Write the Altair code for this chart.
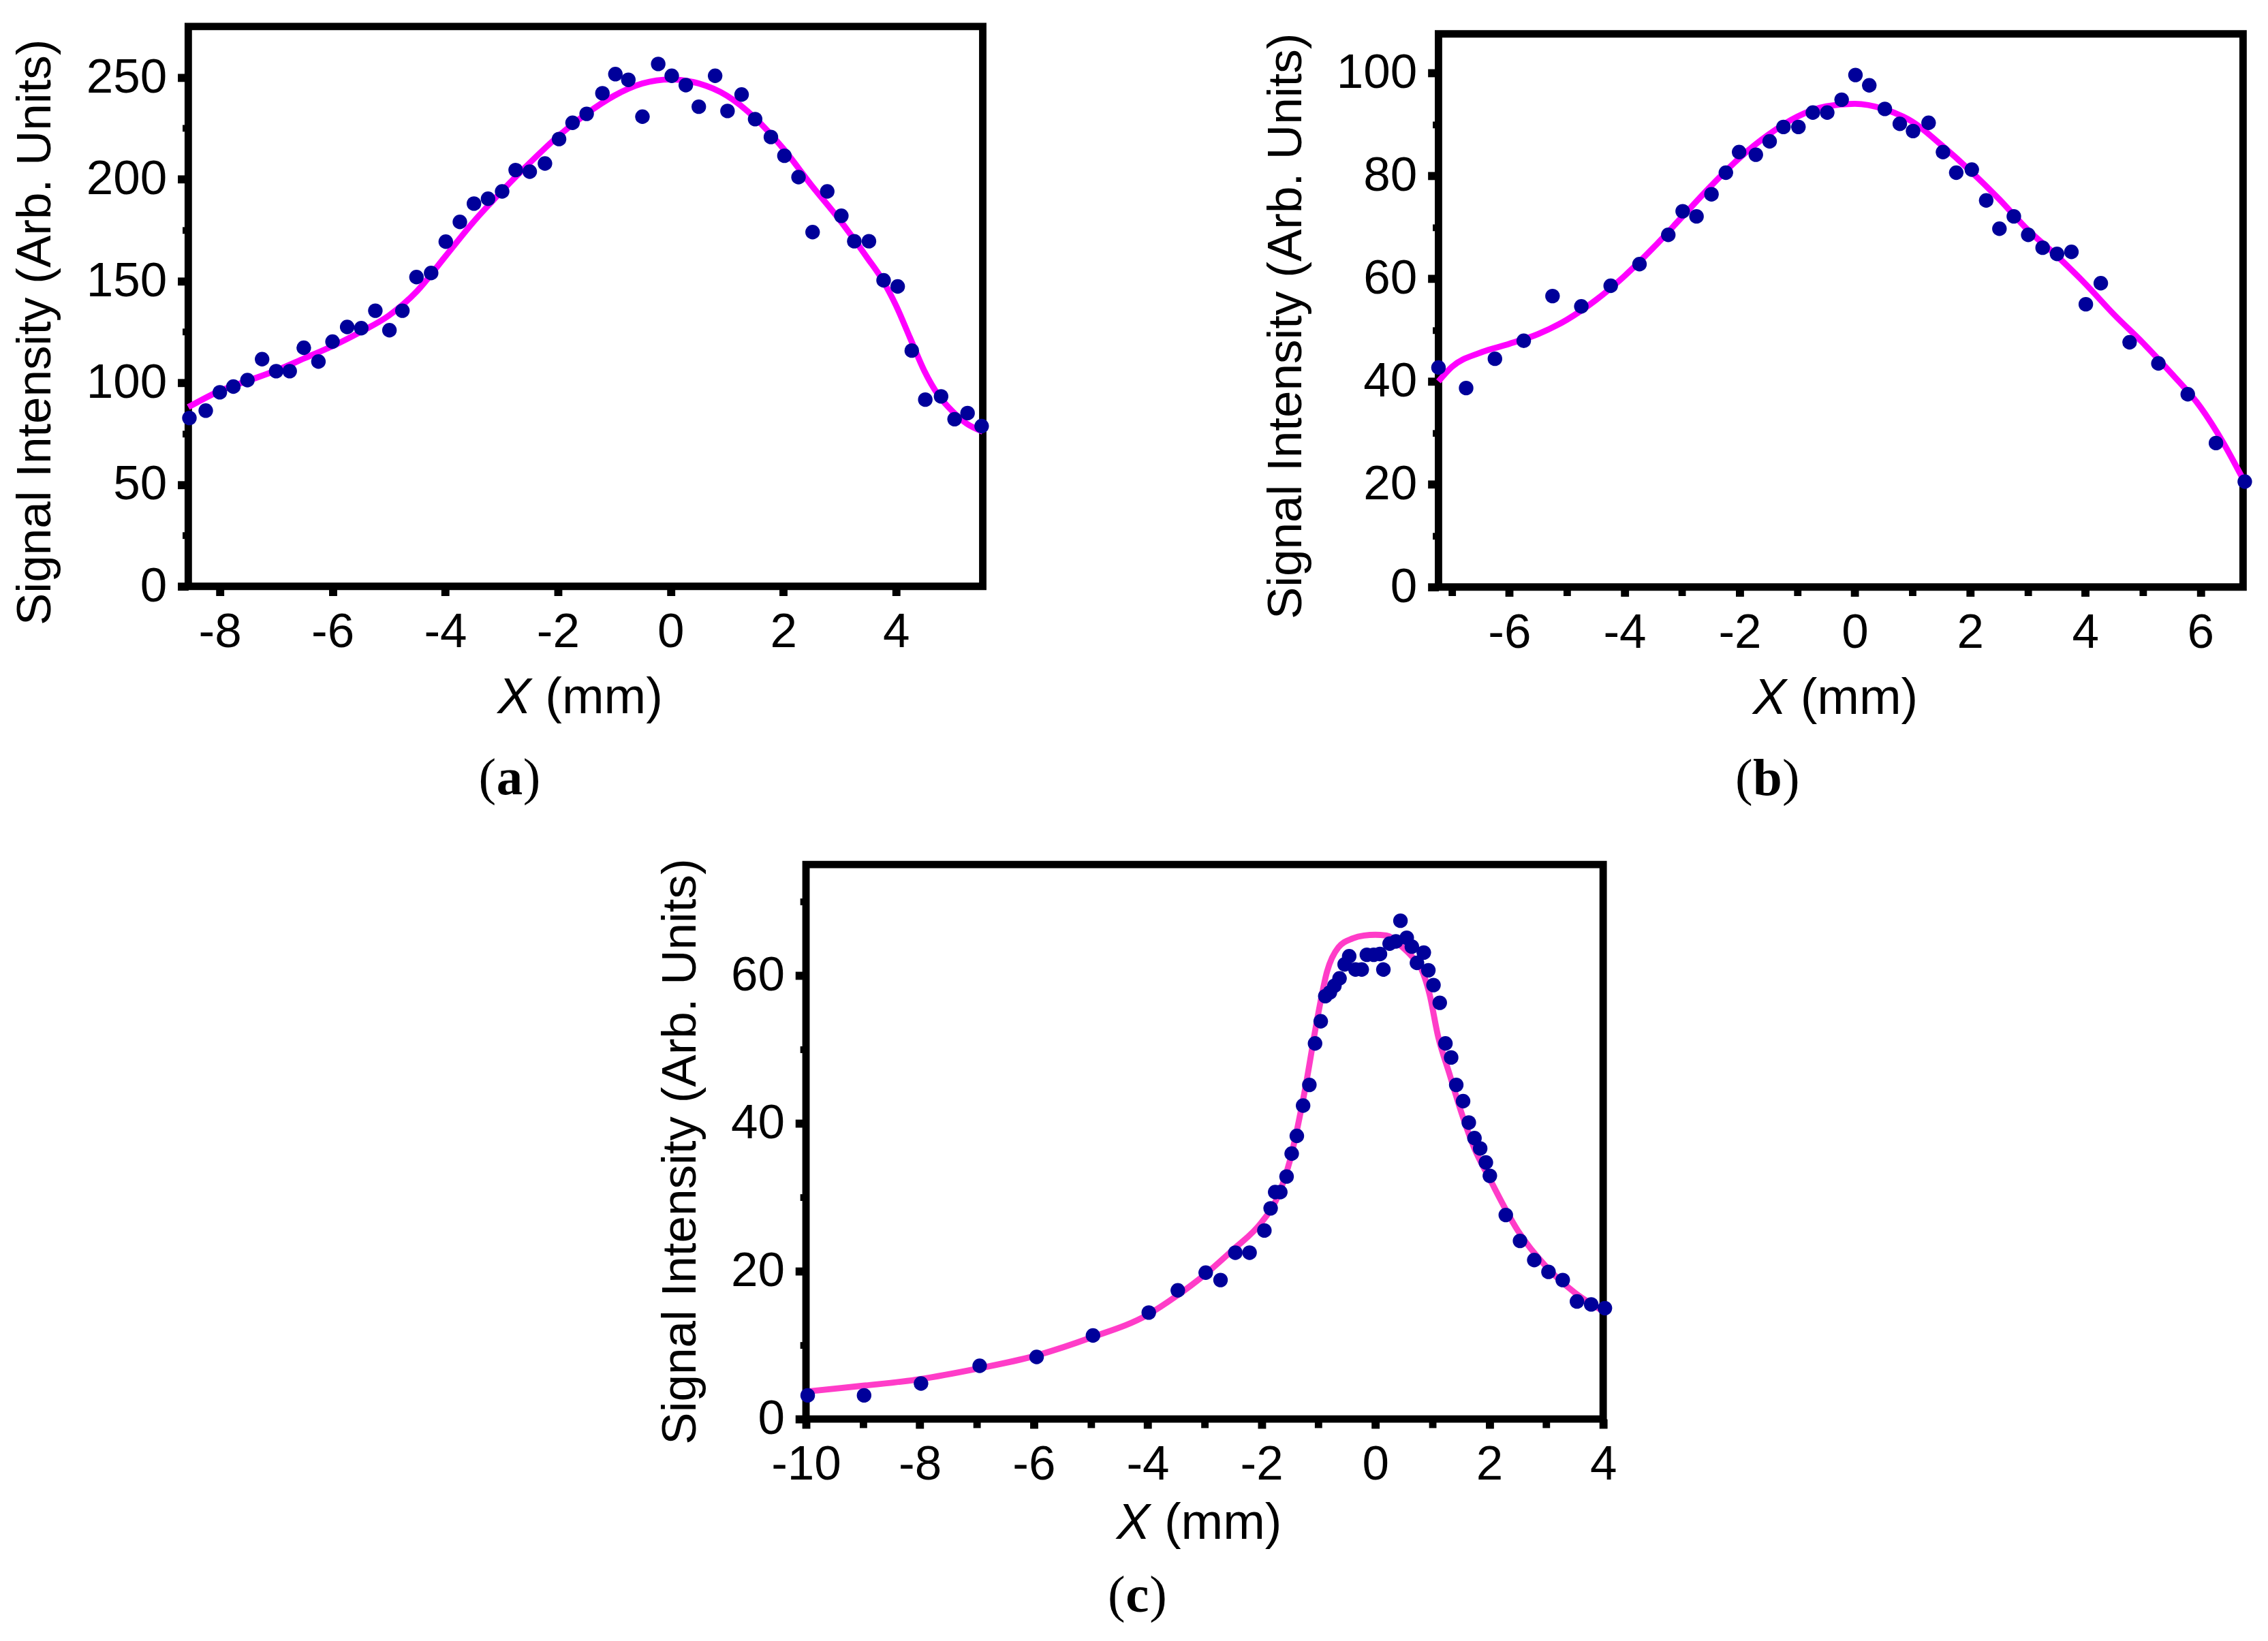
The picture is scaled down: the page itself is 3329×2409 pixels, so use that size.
import altair as alt
import pandas as pd

# ---- panel (a) ----
xa = [-8.54, -8.25, -8.0, -7.76, -7.51, -7.25, -7.0, -6.76, -6.51, -6.25, -6.0, -5.74,
      -5.49, -5.24, -4.99, -4.76, -4.51, -4.25, -3.99, -3.74, -3.49, -3.24, -2.99, -2.75,
      -2.50, -2.23, -1.98, -1.74, -1.49, -1.21, -0.98, -0.75, -0.50, -0.22, 0.02, 0.27,
      0.50, 0.79, 1.01, 1.26, 1.50, 1.78, 2.02, 2.27, 2.52, 2.78, 3.03, 3.26, 3.52, 3.78,
      4.03, 4.28, 4.52, 4.80, 5.04, 5.27, 5.52]
ya = [82.7, 86.3, 95.3, 98.1, 101.3, 111.6, 105.7, 105.7, 117.2, 110.4, 120.2, 127.4,
      126.8, 135.4, 125.8, 135.4, 151.9, 153.9, 169.3, 179.0, 188.0, 190.4, 194.0, 204.5,
      203.7, 207.7, 219.7, 227.7, 232.1, 242.2, 251.6, 248.8, 230.7, 256.6, 250.8, 246.2,
      235.6, 250.8, 233.5, 241.6, 229.5, 220.7, 211.5, 201.0, 174.0, 194.0, 182.0, 169.5,
      169.5, 150.3, 147.3, 115.8, 91.7, 93.3, 82.1, 85.1, 78.7]
fit_xa = [-8.56, -8.0, -7.5, -7.0, -6.5, -6.0, -5.5, -5.0, -4.5, -4.0, -3.5, -3.0, -2.5,
          -2.0, -1.5, -1.0, -0.5, 0.0, 0.5, 1.0, 1.5, 2.0, 2.5, 3.0, 3.5, 3.75, 4.0, 4.25,
          4.5, 4.75, 5.0, 5.25, 5.54]
fit_ya = [88, 96, 101, 106, 112, 118, 125, 133, 145, 162, 179, 194, 208, 221, 232, 241,
          247, 249, 247, 241, 230, 215, 197, 180, 161, 151, 138, 122, 106, 94, 86, 80, 76]

# ---- panel (b) ----
xb = [-7.23, -6.75, -6.25, -5.75, -5.25, -4.75, -4.24, -3.74, -3.24, -2.99, -2.75, -2.49,
      -2.24, -2.01, -1.72, -1.48, -1.24, -0.98, -0.73, -0.48, -0.23, 0.01, 0.25, 0.52,
      0.78, 1.01, 1.28, 1.53, 1.76, 2.03, 2.28, 2.51, 2.76, 3.01, 3.26, 3.51, 3.76, 4.01,
      4.27, 4.77, 5.27, 5.78, 6.27, 6.77]
yb = [42.7, 38.7, 44.4, 47.9, 56.6, 54.6, 58.6, 62.8, 68.5, 73.1, 72.1, 76.4, 80.6, 84.6,
      84.1, 86.7, 89.5, 89.5, 92.3, 92.3, 94.8, 99.6, 97.6, 93.0, 90.1, 88.7, 90.3, 84.6,
      80.6, 81.2, 75.2, 69.7, 72.1, 68.5, 66.0, 64.8, 65.2, 55.0, 59.1, 47.6, 43.5, 37.5,
      28.0, 20.5]
fit_xb = [-7.23, -7.0, -6.5, -6.0, -5.5, -5.0, -4.5, -4.0, -3.5, -3.0, -2.5, -2.0, -1.5,
          -1.0, -0.5, 0.0, 0.5, 1.0, 1.5, 2.0, 2.5, 3.0, 3.5, 4.0, 4.5, 5.0, 5.5, 6.0,
          6.4, 6.74]
fit_yb = [40, 42.8, 45.6, 47.3, 49.2, 52, 55.8, 60.5, 66, 72, 78, 83.5, 88, 91.5, 93.5,
          94, 93, 90.5, 86, 81, 75.5, 69.5, 64.5, 59, 53, 47.5, 41.5, 35, 28, 21]

# ---- panel (c) ----
xc = [-9.97, -8.98, -7.98, -6.95, -5.95, -4.96, -3.98, -3.47, -2.98, -2.72, -2.46, -2.21,
      -1.95, -1.84, -1.76, -1.67, -1.56, -1.47, -1.38, -1.27, -1.16, -1.06, -0.96, -0.88,
      -0.80, -0.72, -0.63, -0.54, -0.46, -0.35, -0.24, -0.15, -0.03, 0.08, 0.14, 0.25,
      0.36, 0.44, 0.55, 0.64, 0.73, 0.85, 0.93, 1.02, 1.13, 1.23, 1.33, 1.42, 1.54, 1.64,
      1.74, 1.84, 1.94, 2.01, 2.29, 2.54, 2.79, 3.04, 3.29, 3.54, 3.79, 4.03]
yc = [3.2, 3.2, 4.8, 7.2, 8.4, 11.3, 14.4, 17.4, 19.8, 18.8, 22.5, 22.5, 25.5, 28.5, 30.7,
      30.7, 32.8, 35.9, 38.3, 42.4, 45.2, 50.8, 53.8, 57.2, 57.7, 58.6, 59.6, 61.5, 62.6,
      60.8, 60.8, 62.8, 62.8, 62.9, 60.8, 64.3, 64.6, 67.4, 65.1, 63.9, 61.7, 63.1, 60.7,
      58.7, 56.3, 50.8, 48.9, 45.2, 43.0, 40.1, 38.0, 36.6, 34.7, 32.9, 27.6, 24.1, 21.5,
      19.9, 18.8, 15.9, 15.5, 15.0]
fit_xc = [-10, -9, -8, -7, -6, -5, -4, -3.5, -3, -2.5, -2, -1.75, -1.5, -1.25, -1.0, -0.85,
          -0.65, -0.4, -0.2, 0.0, 0.2, 0.45, 0.65, 0.8, 0.95, 1.1, 1.3, 1.5, 1.75, 2.0,
          2.5, 3.0, 3.5, 4.0]
fit_yc = [3.7, 4.5, 5.4, 6.8, 8.5, 11.0, 14.1, 16.6, 19.5, 22.9, 26.6, 29.5, 35.0, 44.0,
          55.0, 60.5, 63.8, 65.0, 65.4, 65.5, 65.4, 64.0, 62.5, 61.0, 57.5, 51.8, 46.7,
          41.7, 36.4, 32.6, 25.5, 20.6, 17.1, 14.6]

DOT = "#00009a"
SANS = "Liberation Sans"
SERIF = "Liberation Serif"
YTITLE = "Signal Intensity (Arb. Units)"


def one_row():
    return pd.DataFrame({"v": [0]})


def text_at(txt, x, y, font, size, weight="normal", style="normal", align="center"):
    return alt.Chart(one_row()).mark_text(
        text=txt, font=font, fontSize=size, fontWeight=weight, fontStyle=style,
        align=align, baseline="alphabetic", color="black"
    ).encode(x=alt.value(x), y=alt.value(y))


def spacer(w, h):
    return alt.Chart(one_row()).mark_point(opacity=0, size=1).encode(
        x=alt.X("v:Q", axis=None), y=alt.Y("v:Q", axis=None)
    ).properties(width=w, height=h, view=alt.ViewBackground(strokeOpacity=0))


def panel(xs, ys, fx, fy, xdom, ydom, w, h, xmajor, xminor, ymajor, yminor,
          line_color, letter, half, title_shift, x_dy, cap_dx, cap_dy):
    pts = pd.DataFrame({"x": xs, "y": ys})
    fit = pd.DataFrame({"x": fx, "y": fy})
    xsc = alt.Scale(domain=xdom, nice=False, zero=False)
    ysc = alt.Scale(domain=ydom, nice=False, zero=False)

    major_x = alt.Axis(orient="bottom", values=xmajor, title=None, domain=False, grid=False,
                       tickSize=14, tickWidth=12, tickColor="black",
                       labelFont=SANS, labelFontSize=72, labelColor="black", labelPadding=19,
                       labelExpr="'' + datum.value", labelFlush=False, labelOverlap=False)
    major_y = alt.Axis(orient="left", values=ymajor, title=YTITLE, domain=False, grid=False,
                       tickSize=16, tickWidth=12, tickColor="black",
                       labelFont=SANS, labelFontSize=72, labelColor="black", labelPadding=16,
                       labelFlush=False, labelOverlap=False,
                       titleFont=SANS, titleFontSize=72, titleFontWeight="normal",
                       titleColor="black", titlePadding=38, titleY=h / 2 + title_shift)
    minor_x = alt.Axis(orient="bottom", values=xminor, labels=False, title=None, domain=False,
                       grid=False, tickSize=13, tickWidth=11, tickColor="black")
    minor_y = alt.Axis(orient="left", values=yminor, labels=False, title=None, domain=False,
                       grid=False, tickSize=9, tickWidth=10, tickColor="black")

    line = alt.Chart(fit).mark_line(color=line_color, strokeWidth=9, interpolate="monotone").encode(
        x=alt.X("x:Q", scale=xsc, axis=minor_x),
        y=alt.Y("y:Q", scale=ysc, axis=minor_y),
    )
    dots = alt.Chart(pts).mark_circle(size=470, color=DOT, opacity=1).encode(
        x=alt.X("x:Q", scale=xsc, axis=major_x),
        y=alt.Y("y:Q", scale=ysc, axis=major_y),
    )

    cx = w / 2 - 8
    xt = [
        text_at("X", cx - 73, h + x_dy, SANS, 75, style="italic", align="right"),
        text_at("(mm)", cx - 52, h + x_dy, SANS, 75, align="left"),
    ]
    cc = w / 2 + cap_dx
    cap = [
        text_at("(", cc - half, h + cap_dy, SERIF, 78, align="right"),
        text_at(letter, cc, h + cap_dy, SERIF, 78, weight="bold"),
        text_at(")", cc + half, h + cap_dy, SERIF, 78, align="left"),
    ]
    return alt.layer(line, dots, *xt, *cap).resolve_axis(x="independent", y="independent").properties(
        width=w, height=h)


pa = panel(xa, ya, fit_xa, fit_ya, [-8.56, 5.54], [0, 275], 1182, 833,
           [-8, -6, -4, -2, 0, 2, 4], [-8, -6, -4, -2, 0, 2, 4],
           [0, 50, 100, 150, 200, 250], [0, 25, 50, 75, 100, 125, 150, 175, 200, 225, 250],
           "#ff00ff", "a", 20, 38, 189, -113, 309)
pb = panel(xb, yb, fit_xb, fit_yb, [-7.23, 6.74], [0, 107.6], 1197, 823,
           [-6, -4, -2, 0, 2, 4, 6], [-7, -6, -5, -4, -3, -2, -1, 0, 1, 2, 3, 4, 5, 6],
           [0, 20, 40, 60, 80, 100], [0, 10, 20, 30, 40, 50, 60, 70, 80, 90, 100],
           "#ff00ff", "b", 22, 23, 189, -109, 309)
pc = panel(xc, yc, fit_xc, fit_yc, [-10, 4], [0, 75], 1186, 825,
           [-10, -8, -6, -4, -2, 0, 2, 4], [-10, -9, -8, -7, -6, -5, -4, -3, -2, -1, 0, 1, 2, 3, 4],
           [0, 20, 40, 60], [0, 10, 20, 30, 40, 50, 60, 70],
           "#ff3cc8", "c", 18, 14, 178, -100, 287)

row1 = alt.hconcat(pa, alt.vconcat(spacer(1197, 3), pb, spacing=0), spacing=385)
row2 = alt.hconcat(spacer(919, 1), pc, spacing=0, bounds="flush")

chart = alt.vconcat(row1, row2, spacing=66, padding={"left": 3, "top": 9, "right": 5, "bottom": 5}).configure_view(
    stroke="black", strokeWidth=11
).properties(background="white")

chart.save("out.html", embed_options={"renderer": "svg", "actions": False})
